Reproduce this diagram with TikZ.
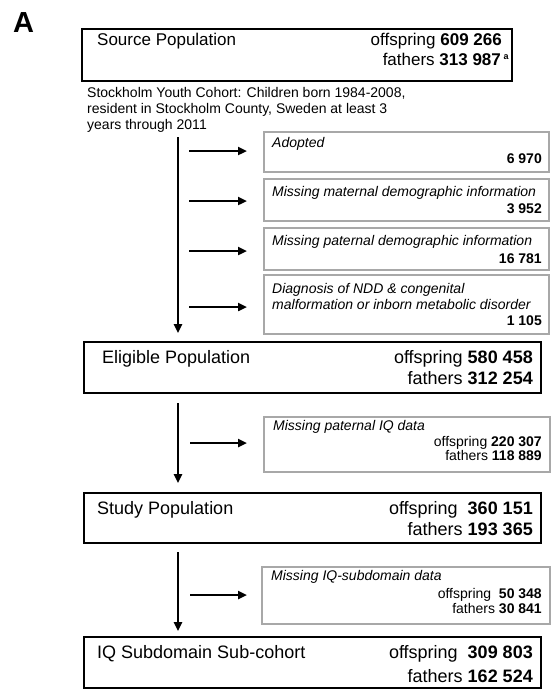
\documentclass[tikz,border=0pt]{standalone}
\usepackage{fontspec}
\setmainfont{Liberation Sans}
\usetikzlibrary{arrows.meta}
\definecolor{boxgray}{RGB}{168,168,168}

\begin{document}
\begin{tikzpicture}[x=1pt, y=-1pt,
    mainbox/.style = {draw, line width=1.6pt, inner sep=0pt},
    greybox/.style = {draw=boxgray, line width=2pt, inner sep=0pt, minimum width=285pt},
    bigtxt/.style = {font=\fontsize{18}{20}\selectfont, inner sep=0pt},
    smalltxt/.style = {font=\fontsize{14}{16}\selectfont, inner sep=0pt},
    arr/.style = {-{Triangle[length=9pt, width=8pt]}, line width=2.6pt}]

\useasboundingbox (0,0) rectangle (556,694);

% panel letter
\node[font=\fontsize{29}{30}\selectfont\bfseries, inner sep=0pt, anchor=base west] (panel) at (13,32) {A};

% source population
\node[mainbox, minimum width=430pt, minimum height=52pt] (src) at (297,55) {};
\node[bigtxt, font=\fontsize{17}{20}\selectfont, anchor=base west] (srcname) at (97,45) {Source Population};
\node[bigtxt, font=\fontsize{17}{20}\selectfont, anchor=base east] (srcoff) at (502,45) {offspring \textbf{609 266}};
\node[bigtxt, font=\fontsize{17}{20}\selectfont, anchor=base east] (srcfat) at (509,65) {fathers \textbf{313 987}\,\raisebox{6pt}{\fontsize{9}{9}\selectfont\textbf{a}}};
\node[smalltxt, align=left, anchor=north west] (cohort) at (87,87)
    {Stockholm Youth Cohort: Children born 1984-2008,\\resident in Stockholm County, Sweden at least 3\\years through 2011};

% exclusions before eligibility
\node[greybox, minimum height=40pt] (ex1) at (406.5,152) {};
\node[greybox, minimum height=42pt] (ex2) at (406.5,200) {};
\node[greybox, minimum height=42pt] (ex3) at (406.5,249) {};
\node[greybox, minimum height=59pt] (ex4) at (406.5,304.5) {};
\node[smalltxt, anchor=base west, font=\fontsize{14}{16}\selectfont\itshape] (ex1lab) at (272,147) {Adopted};
\node[smalltxt, anchor=base east, font=\fontsize{14}{16}\selectfont\bfseries] (ex1num) at (542,163) {6 970};
\node[smalltxt, anchor=base west, font=\fontsize{14}{16}\selectfont\itshape] (ex2lab) at (272,196) {Missing maternal demographic information};
\node[smalltxt, anchor=base east, font=\fontsize{14}{16}\selectfont\bfseries] (ex2num) at (542,213) {3 952};
\node[smalltxt, anchor=base west, font=\fontsize{14}{16}\selectfont\itshape] (ex3lab) at (272,245) {Missing paternal demographic information};
\node[smalltxt, anchor=base east, font=\fontsize{14}{16}\selectfont\bfseries] (ex3num) at (542,263) {16 781};
\node[smalltxt, align=left, anchor=north west, font=\fontsize{14}{16}\selectfont\itshape] (ex4lab) at (272,283)
    {Diagnosis of NDD \& congenital\\malformation or inborn metabolic disorder};
\node[smalltxt, anchor=base east, font=\fontsize{14}{16}\selectfont\bfseries] (ex4num) at (542,325) {1 105};

% eligible population
\node[mainbox, minimum width=457pt, minimum height=51pt] (elig) at (312.5,367.5) {};
\node[bigtxt, anchor=base west] (eligname) at (102,363) {Eligible Population};
\node[bigtxt, anchor=base east] (eligoff) at (533,363) {offspring \textbf{580 458}};
\node[bigtxt, anchor=base east] (eligfat) at (533,384) {fathers \textbf{312 254}};

% missing paternal IQ
\node[greybox, minimum height=55pt, minimum width=286pt] (ex5) at (407,444.5) {};
\node[smalltxt, anchor=base west, font=\fontsize{14}{16}\selectfont\itshape] (ex5lab) at (273,430) {Missing paternal IQ data};
\node[smalltxt, anchor=base east] (ex5off) at (542,446) {offspring \textbf{220 307}};
\node[smalltxt, anchor=base east] (ex5fat) at (542,460) {fathers \textbf{118 889}};

% study population
\node[mainbox, minimum width=457pt, minimum height=50pt] (study) at (312.5,518) {};
\node[bigtxt, anchor=base west] (studyname) at (97,514) {Study Population};
\node[bigtxt, anchor=base east] (studyoff) at (533,514) {offspring\ \ \textbf{360 151}};
\node[bigtxt, anchor=base east] (studyfat) at (533,535) {fathers \textbf{193 365}};

% missing IQ subdomain
\node[greybox, minimum height=57pt, minimum width=288pt] (ex6) at (406,595.5) {};
\node[smalltxt, anchor=base west, font=\fontsize{14}{16}\selectfont\itshape] (ex6lab) at (271,580) {Missing IQ-subdomain data};
\node[smalltxt, anchor=base east] (ex6off) at (542,598) {offspring\ \ \textbf{50 348}};
\node[smalltxt, anchor=base east] (ex6fat) at (542,613) {fathers \textbf{30 841}};

% IQ subdomain sub-cohort
\node[mainbox, minimum width=457pt, minimum height=51pt] (sub) at (312.5,662.5) {};
\node[bigtxt, anchor=base west] (subname) at (97,658) {IQ Subdomain Sub-cohort};
\node[bigtxt, anchor=base east] (suboff) at (533,658) {offspring\ \ \textbf{309 803}};
\node[bigtxt, anchor=base east] (subfat) at (533,682) {fathers \textbf{162 524}};

% arrows
\coordinate (v1) at (178,137);
\coordinate (v2) at (178,403);
\coordinate (v3) at (178,552);
\draw[arr, shorten >=8pt] (v1) -- (v1 |- elig.north);
\draw[arr, shorten >=9pt] (v2) -- (v2 |- study.north);
\draw[arr, shorten >=5pt] (v3) -- (v3 |- sub.north);

\coordinate (h1) at (189,151);
\coordinate (h2) at (189,201);
\coordinate (h3) at (189,251);
\coordinate (h4) at (189,307);
\coordinate (h5) at (190,443);
\coordinate (h6) at (190,595);
\draw[arr, shorten >=16pt] (h1) -- (h1 -| ex1.west);
\draw[arr, shorten >=16pt] (h2) -- (h2 -| ex2.west);
\draw[arr, shorten >=16pt] (h3) -- (h3 -| ex3.west);
\draw[arr, shorten >=16pt] (h4) -- (h4 -| ex4.west);
\draw[arr, shorten >=16pt] (h5) -- (h5 -| ex5.west);
\draw[arr, shorten >=14pt] (h6) -- (h6 -| ex6.west);
\end{tikzpicture}
\end{document}
